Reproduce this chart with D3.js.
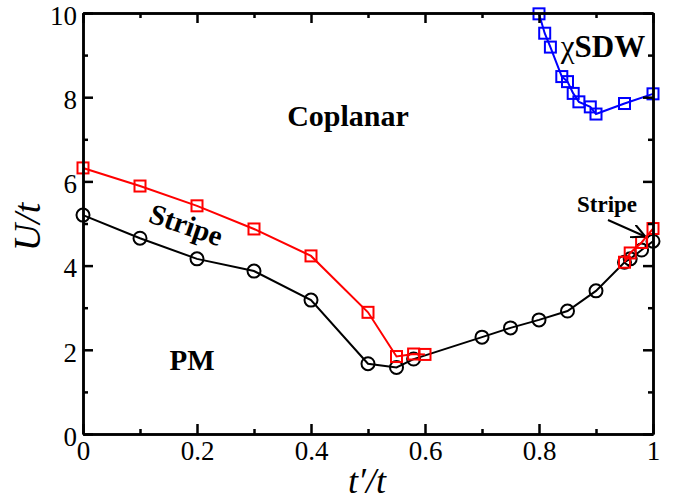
<!DOCTYPE html>
<html>
<head>
<meta charset="utf-8">
<script src="https://cdn.jsdelivr.net/npm/d3@7"></script>
<style>
  body { margin: 0; background: #fff; }
  svg text { font-family: "Liberation Serif", "Times New Roman", serif; }
</style>
</head>
<body>
<svg id="chart" width="678" height="502"></svg>
<script>
// PM / Stripe boundary (circles)
const pmX = [0, 0.1, 0.2, 0.3, 0.4, 0.5, 0.55, 0.58, 0.7, 0.75, 0.8, 0.85, 0.9, 0.95, 0.96, 0.98, 1.0];
const pmY = [5.2, 4.65, 4.16, 3.87, 3.18, 1.67, 1.58, 1.78, 2.3, 2.52, 2.71, 2.92, 3.4, 4.08, 4.16, 4.37, 4.58];

// Stripe / Coplanar boundary (red squares), small t' side
const stripeLoX = [0, 0.1, 0.2, 0.3, 0.4, 0.5, 0.55, 0.58, 0.6];
const stripeLoY = [6.32, 5.89, 5.42, 4.87, 4.23, 2.89, 1.84, 1.9, 1.89];
// ... and near t'/t = 1
const stripeHiX = [0.95, 0.96, 0.98, 1.0];
const stripeHiY = [4.08, 4.3, 4.55, 4.88];

// chiSDW boundary (blue squares)
const sdwX = [0.8, 0.81, 0.82, 0.84, 0.85, 0.86, 0.87, 0.89, 0.9, 0.95, 1.0];
const sdwY = [9.98, 9.52, 9.19, 8.49, 8.37, 8.09, 7.89, 7.77, 7.6, 7.85, 8.08];

const xMajor = [0, 0.2, 0.4, 0.6, 0.8, 1];
const xMinor = [0.1, 0.3, 0.5, 0.7, 0.9];
const yMajor = [0, 2, 4, 6, 8, 10];
const yMinor = [1, 3, 5, 7, 9];

const svg = d3.select("#chart");
const mLeft = 83, mTop = 13, plotW = 570, plotH = 421;

const x = d3.scaleLinear().domain([0, 1]).range([mLeft, mLeft + plotW]);
const y = d3.scaleLinear().domain([0, 10]).range([mTop + plotH, mTop]);

const zip = (xs, ys) => xs.map((v, i) => ({ x: v, y: ys[i] }));

const line = d3.line().x(d => x(d.x)).y(d => y(d.y));

// clip to plot box
svg.append("clipPath").attr("id", "clip")
  .append("rect").attr("x", mLeft - 8).attr("y", mTop - 8)
  .attr("width", plotW + 16).attr("height", plotH + 16);

const plot = svg.append("g").attr("clip-path", "url(#clip)");

function drawSeries(data, color, shape) {
  plot.append("path").datum(data)
    .attr("fill", "none").attr("stroke", color).attr("stroke-width", 2)
    .attr("d", line);
  if (shape == "circle") {
    plot.selectAll(null).data(data).enter().append("circle")
      .attr("cx", d => x(d.x)).attr("cy", d => y(d.y)).attr("r", 6.5)
      .attr("fill", "none").attr("stroke", color).attr("stroke-width", 2);
  } else {
    plot.selectAll(null).data(data).enter().append("rect")
      .attr("x", d => x(d.x) - 5.5).attr("y", d => y(d.y) - 5.5)
      .attr("width", 11).attr("height", 11)
      .attr("fill", "none").attr("stroke", color).attr("stroke-width", 2);
  }
}

drawSeries(zip(pmX, pmY), "#000", "circle");
drawSeries(zip(stripeLoX, stripeLoY), "#ff0000", "square");
drawSeries(zip(stripeHiX, stripeHiY), "#ff0000", "square");
drawSeries(zip(sdwX, sdwY), "#0000ff", "square");

// axes: ticks pointing inward on all four sides
const bottom = d3.axisBottom(x).tickValues(xMajor).tickSizeInner(-10).tickSizeOuter(0)
  .tickFormat(d => d3.format("~g")(d)).tickPadding(7);
svg.append("g").attr("transform", `translate(0,${mTop + plotH})`).call(bottom);

const leftAx = d3.axisLeft(y).tickValues(yMajor).tickSizeInner(-10).tickSizeOuter(0).tickPadding(6);
const gy = svg.append("g").attr("transform", `translate(${mLeft},0)`).call(leftAx);

const topAx = d3.axisTop(x).tickValues(xMajor).tickSizeInner(-10).tickSizeOuter(0).tickFormat("");
svg.append("g").attr("transform", `translate(0,${mTop})`).call(topAx);
const rightAx = d3.axisRight(y).tickValues(yMajor).tickSizeInner(-10).tickSizeOuter(0).tickFormat("");
svg.append("g").attr("transform", `translate(${mLeft + plotW},0)`).call(rightAx);

// minor ticks
svg.append("g").attr("transform", `translate(0,${mTop + plotH})`)
  .call(d3.axisBottom(x).tickValues(xMinor).tickSizeInner(-5).tickSizeOuter(0).tickFormat(""));
svg.append("g").attr("transform", `translate(0,${mTop})`)
  .call(d3.axisTop(x).tickValues(xMinor).tickSizeInner(-5).tickSizeOuter(0).tickFormat(""));
svg.append("g").attr("transform", `translate(${mLeft},0)`)
  .call(d3.axisLeft(y).tickValues(yMinor).tickSizeInner(-5).tickSizeOuter(0).tickFormat(""));
svg.append("g").attr("transform", `translate(${mLeft + plotW},0)`)
  .call(d3.axisRight(y).tickValues(yMinor).tickSizeInner(-5).tickSizeOuter(0).tickFormat(""));

svg.selectAll(".domain").attr("stroke", "#000").attr("stroke-width", 2.5);
svg.selectAll(".tick line").attr("stroke", "#000").attr("stroke-width", 2.5);
svg.selectAll(".tick text").attr("font-size", 27).attr("fill", "#000")
  .attr("font-family", "Liberation Serif");
// y labels sit a little below their ticks in the original
gy.selectAll(".tick text").attr("dy", "0.42em");

// axis titles
svg.append("text").attr("x", 367).attr("y", 493).attr("text-anchor", "middle")
  .attr("font-size", 36).attr("font-style", "italic").text("t\u2032/t");
svg.append("text").attr("transform", "translate(40,227) rotate(-90)").attr("text-anchor", "middle")
  .attr("font-size", 38).attr("font-style", "italic").text("U/t");

// phase labels
svg.append("text").attr("x", 348).attr("y", 126).attr("text-anchor", "middle")
  .attr("font-size", 30).attr("font-weight", "bold").text("Coplanar");
const sdw = svg.append("text").attr("x", 603).attr("y", 57).attr("text-anchor", "middle")
  .attr("font-size", 31);
sdw.append("tspan").text("\u03c7");
sdw.append("tspan").attr("font-weight", "bold").text("SDW");
svg.append("text").attr("x", 192).attr("y", 370).attr("text-anchor", "middle")
  .attr("font-size", 29).attr("font-weight", "bold").text("PM");
svg.append("text").attr("transform", "translate(183,234) rotate(19)").attr("text-anchor", "middle")
  .attr("font-size", 29).attr("font-weight", "bold").text("Stripe");
svg.append("text").attr("x", 607).attr("y", 212).attr("text-anchor", "middle")
  .attr("font-size", 23).attr("font-weight", "bold").text("Stripe");

// arrow to the narrow stripe region
svg.append("defs").append("marker").attr("id", "arr")
  .attr("viewBox", "0 0 10 10").attr("refX", 9).attr("refY", 5)
  .attr("markerWidth", 7).attr("markerHeight", 7).attr("orient", "auto")
  .append("path").attr("d", "M0,0 L10,5 L0,10").attr("fill", "none").attr("stroke", "#000").attr("stroke-width", 1.5);
svg.append("line").attr("x1", 608).attr("y1", 220).attr("x2", 644).attr("y2", 236)
  .attr("stroke", "#000").attr("stroke-width", 2).attr("marker-end", "url(#arr)");
</script>
</body>
</html>
